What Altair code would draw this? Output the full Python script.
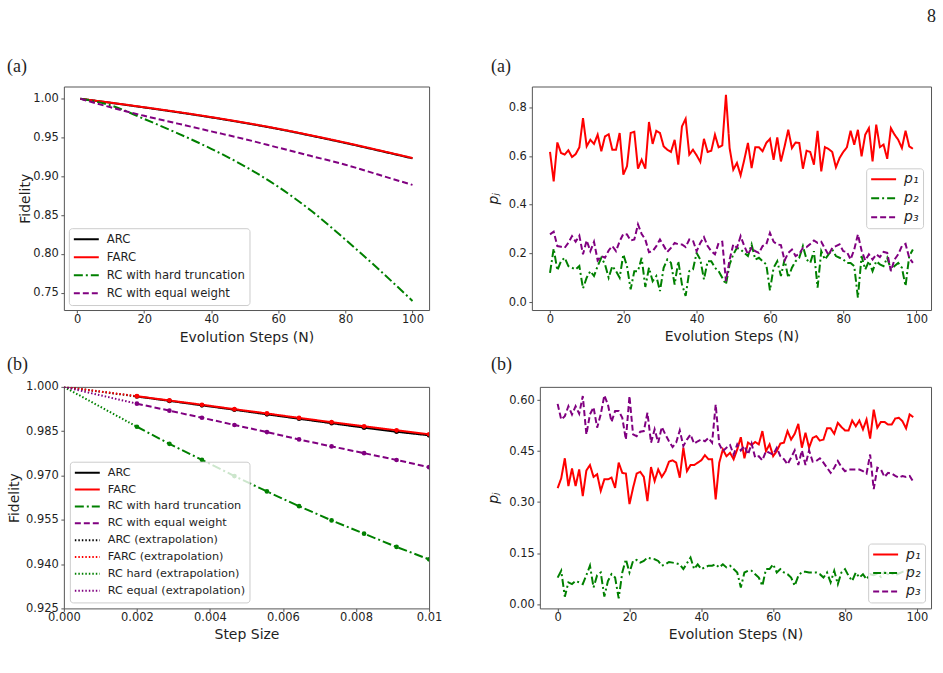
import altair as alt
import pandas as pd

SANS = "DejaVu Sans"
SERIF = "Liberation Serif"
INK = "#1f1f1f"
FRAME = "#555555"

# ---------------------------------------------------------------------------
# Fidelity versus number of evolution steps N
evo_steps = [1, 10, 20, 30, 40, 50, 60, 70, 80, 90, 100]
fid_arc = [1.0000, 0.9948, 0.9888, 0.9826, 0.9760, 0.9688, 0.9610, 0.9522, 0.9430, 0.9332, 0.9232]
fid_farc = [1.0000, 0.9950, 0.9891, 0.9830, 0.9764, 0.9692, 0.9614, 0.9527, 0.9435, 0.9337, 0.9237]
fid_hard = [1.0000, 0.9915, 0.9740, 0.9555, 0.9355, 0.9130, 0.8865, 0.8550, 0.8185, 0.7800, 0.7395]
fid_equal = [1.0000, 0.9890, 0.9780, 0.9680, 0.9580, 0.9480, 0.9370, 0.9260, 0.9150, 0.9020, 0.8890]

# Fidelity versus step size, with linear extrapolation to zero step size
step_size = [0.002, 0.00289, 0.00378, 0.00467, 0.00556, 0.00644, 0.00733, 0.00822, 0.00911, 0.010]
ss_arc = [0.99675, 0.99525, 0.99375, 0.99225, 0.99070, 0.98920, 0.98770, 0.98620, 0.98480, 0.98360]
ss_farc = [0.99685, 0.99540, 0.99395, 0.99245, 0.99100, 0.98950, 0.98805, 0.98665, 0.98530, 0.98395]
ss_hard = [0.98650, 0.98070, 0.97530, 0.96980, 0.96460, 0.95960, 0.95480, 0.95030, 0.94580, 0.94160]
ss_equal = [0.99430, 0.99195, 0.98955, 0.98710, 0.98470, 0.98220, 0.97985, 0.97755, 0.97525, 0.97280]
extrap_x = [0.0, 0.002]
ex_arc = [1.0, 0.99675]
ex_farc = [1.0, 0.99685]
ex_hard = [1.0, 0.98650]
ex_equal = [1.0, 0.99430]

# Probabilities p_j over the evolution steps
steps = list(range(100))
p1_a = [0.617, 0.496, 0.656, 0.613, 0.606, 0.624, 0.596, 0.608, 0.636, 0.756,
        0.640, 0.667, 0.650, 0.688, 0.620, 0.681, 0.690, 0.626, 0.626, 0.695,
        0.524, 0.558, 0.695, 0.700, 0.548, 0.585, 0.548, 0.740, 0.650, 0.704,
        0.695, 0.640, 0.626, 0.617, 0.667, 0.565, 0.722, 0.753, 0.606, 0.626,
        0.603, 0.576, 0.671, 0.617, 0.622, 0.688, 0.636, 0.644, 0.852, 0.633,
        0.544, 0.572, 0.521, 0.585, 0.654, 0.551, 0.636, 0.636, 0.620, 0.654,
        0.671, 0.585, 0.677, 0.578, 0.640, 0.708, 0.633, 0.656, 0.654, 0.548,
        0.622, 0.617, 0.565, 0.704, 0.537, 0.637, 0.629, 0.617, 0.554, 0.592,
        0.617, 0.636, 0.704, 0.647, 0.708, 0.599, 0.688, 0.715, 0.578, 0.729,
        0.637, 0.647, 0.589, 0.715, 0.688, 0.667, 0.633, 0.704, 0.640, 0.630]
p2_a = [0.120, 0.220, 0.130, 0.168, 0.182, 0.148, 0.141, 0.134, 0.148, 0.056,
        0.100, 0.127, 0.107, 0.148, 0.182, 0.155, 0.100, 0.148, 0.127, 0.100,
        0.196, 0.148, 0.052, 0.127, 0.127, 0.182, 0.062, 0.141, 0.086, 0.107,
        0.045, 0.141, 0.175, 0.161, 0.072, 0.168, 0.072, 0.025, 0.127, 0.134,
        0.202, 0.175, 0.093, 0.168, 0.168, 0.141, 0.127, 0.100, 0.072, 0.155,
        0.196, 0.223, 0.216, 0.202, 0.189, 0.237, 0.175, 0.182, 0.168, 0.155,
        0.048, 0.141, 0.168, 0.107, 0.175, 0.100, 0.141, 0.168, 0.182, 0.230,
        0.175, 0.161, 0.209, 0.059, 0.209, 0.175, 0.196, 0.216, 0.189, 0.182,
        0.175, 0.161, 0.161, 0.148, 0.018, 0.189, 0.134, 0.168, 0.127, 0.168,
        0.155, 0.148, 0.182, 0.134, 0.148, 0.161, 0.141, 0.066, 0.189, 0.216]
p3_a = [0.278, 0.289, 0.230, 0.227, 0.223, 0.243, 0.271, 0.248, 0.273, 0.196,
        0.253, 0.209, 0.248, 0.171, 0.189, 0.182, 0.212, 0.230, 0.209, 0.250,
        0.280, 0.278, 0.253, 0.257, 0.319, 0.280, 0.257, 0.205, 0.209, 0.230,
        0.257, 0.232, 0.206, 0.223, 0.243, 0.237, 0.237, 0.226, 0.257, 0.253,
        0.209, 0.243, 0.267, 0.230, 0.209, 0.196, 0.243, 0.248, 0.086, 0.175,
        0.237, 0.223, 0.271, 0.230, 0.196, 0.223, 0.209, 0.202, 0.230, 0.237,
        0.284, 0.248, 0.237, 0.234, 0.171, 0.202, 0.216, 0.189, 0.198, 0.223,
        0.226, 0.239, 0.253, 0.243, 0.248, 0.220, 0.193, 0.223, 0.230, 0.237,
        0.209, 0.206, 0.175, 0.216, 0.278, 0.212, 0.171, 0.196, 0.175, 0.196,
        0.185, 0.206, 0.202, 0.127, 0.175, 0.196, 0.230, 0.239, 0.182, 0.161]

p1_b = [0.341, 0.370, 0.429, 0.347, 0.399, 0.347, 0.396, 0.318, 0.393, 0.409,
        0.374, 0.382, 0.333, 0.367, 0.367, 0.372, 0.342, 0.416, 0.386, 0.384,
        0.294, 0.342, 0.384, 0.389, 0.374, 0.303, 0.403, 0.362, 0.396, 0.374,
        0.391, 0.419, 0.423, 0.416, 0.372, 0.460, 0.391, 0.409, 0.409, 0.416,
        0.423, 0.438, 0.426, 0.426, 0.308, 0.416, 0.455, 0.435, 0.445, 0.426,
        0.455, 0.491, 0.429, 0.475, 0.468, 0.477, 0.470, 0.509, 0.450, 0.470,
        0.435, 0.450, 0.472, 0.475, 0.509, 0.484, 0.501, 0.530, 0.460, 0.504,
        0.460, 0.489, 0.494, 0.481, 0.484, 0.517, 0.517, 0.501, 0.533, 0.521,
        0.511, 0.511, 0.540, 0.523, 0.540, 0.514, 0.543, 0.487, 0.572, 0.519,
        0.536, 0.536, 0.528, 0.528, 0.546, 0.548, 0.538, 0.517, 0.558, 0.550]
p2_b = [0.078, 0.098, 0.022, 0.064, 0.059, 0.068, 0.064, 0.059, 0.085, 0.113,
        0.049, 0.085, 0.093, 0.022, 0.068, 0.088, 0.078, 0.017, 0.093, 0.132,
        0.093, 0.127, 0.130, 0.122, 0.127, 0.137, 0.134, 0.132, 0.127, 0.113,
        0.117, 0.124, 0.122, 0.120, 0.117, 0.103, 0.120, 0.137, 0.103, 0.117,
        0.103, 0.108, 0.113, 0.113, 0.117, 0.108, 0.117, 0.108, 0.113, 0.103,
        0.093, 0.049, 0.093, 0.098, 0.098, 0.088, 0.078, 0.054, 0.103, 0.103,
        0.117, 0.093, 0.103, 0.093, 0.088, 0.078, 0.054, 0.083, 0.095, 0.095,
        0.093, 0.093, 0.093, 0.088, 0.078, 0.093, 0.064, 0.098, 0.059, 0.093,
        0.103, 0.083, 0.068, 0.093, 0.078, 0.088, 0.073, 0.088, 0.085, 0.090,
        0.080, 0.095, 0.088, 0.090, 0.085, 0.090, 0.095, 0.098, 0.100, 0.090]
p3_b = [0.589, 0.543, 0.553, 0.582, 0.558, 0.582, 0.560, 0.612, 0.499, 0.558,
        0.579, 0.519, 0.558, 0.614, 0.587, 0.536, 0.568, 0.568, 0.548, 0.484,
        0.612, 0.499, 0.494, 0.507, 0.509, 0.563, 0.475, 0.514, 0.475, 0.521,
        0.499, 0.479, 0.462, 0.475, 0.511, 0.465, 0.484, 0.499, 0.472, 0.479,
        0.484, 0.479, 0.489, 0.475, 0.587, 0.470, 0.450, 0.460, 0.468, 0.440,
        0.470, 0.452, 0.465, 0.440, 0.472, 0.431, 0.435, 0.423, 0.450, 0.445,
        0.440, 0.460, 0.435, 0.426, 0.411, 0.431, 0.452, 0.409, 0.452, 0.409,
        0.452, 0.419, 0.421, 0.429, 0.416, 0.401, 0.386, 0.401, 0.421, 0.403,
        0.391, 0.396, 0.396, 0.396, 0.396, 0.391, 0.384, 0.440, 0.338, 0.401,
        0.396, 0.374, 0.386, 0.384, 0.377, 0.372, 0.377, 0.374, 0.377, 0.360]

fid_names = ["ARC", "FARC", "RC with hard truncation", "RC with equal weight"]
fid_colors = ["black", "red", "green", "purple"]
fid_dashes = [[1, 0], [1, 0], [9, 3, 2, 3], [6, 3]]

ext_names = ["ARC (extrapolation)", "FARC (extrapolation)",
             "RC hard (extrapolation)", "RC equal (extrapolation)"]

p_names = ["p\u2081", "p\u2082", "p\u2083"]
p_colors = ["red", "green", "purple"]
p_dashes = [[1, 0], [8, 3, 2, 3], [6, 3]]

INDEPENDENT = dict(color="independent", strokeDash="independent", strokeWidth="independent")


def long_df(x, cols):
    rows = []
    for name, vals in cols:
        for xv, yv in zip(x, vals):
            rows.append({"x": xv, "y": yv, "series": name})
    return pd.DataFrame(rows)


def legend(**kw):
    props = dict(title=None, symbolType="stroke", symbolSize=625, symbolStrokeWidth=2,
                 labelFont=SANS, labelFontSize=11.7, labelColor=INK, labelOffset=7,
                 labelLimit=400, padding=4, rowPadding=4.1, clipHeight=14,
                 fillColor="rgba(255,255,255,0.8)", strokeColor="#cccccc", cornerRadius=3)
    props.update(kw)
    return alt.Legend(**props)


def x_axis(title, values, fmt, title_y, label_expr=None):
    kw = dict(title=title, values=values, format=fmt, grid=False, domain=False,
              tickSize=3, tickColor=FRAME, labelPadding=0.5, labelFlush=False,
              labelOverlap=False, labelFont=SANS, labelFontSize=11.5, labelColor=INK,
              titleFont=SANS, titleFontSize=14, titleFontWeight="normal",
              titleColor=INK, titleY=title_y, titleBaseline="top")
    if label_expr:
        kw["labelExpr"] = label_expr
    return alt.Axis(**kw)


def y_axis(title, values, fmt, title_x, italic=False):
    return alt.Axis(title=title, values=values, format=fmt, grid=False, domain=False,
                    tickSize=3, tickColor=FRAME, labelPadding=2.5, labelFlush=False,
                    labelOverlap=False, labelFont=SANS, labelFontSize=11.5, labelColor=INK,
                    titleFont=SANS, titleFontSize=14, titleFontWeight="normal",
                    titleFontStyle="italic" if italic else "normal",
                    titleColor=INK, titleX=title_x, titleAngle=270, titleBaseline="bottom")


def text_note(text, x, y, align="left", size=18):
    return alt.Chart(pd.DataFrame({"t": [text]})).mark_text(
        font=SERIF, fontSize=size, align=align, baseline="alphabetic", color=INK
    ).encode(x=alt.value(x), y=alt.value(y), text="t:N")


def line_layers(df, names, colors, dashes, xenc, yenc, leg, widths=None, interpolate="linear"):
    enc = dict(
        x=xenc, y=yenc,
        color=alt.Color("series:N", scale=alt.Scale(domain=names, range=colors), legend=leg),
        strokeDash=alt.StrokeDash("series:N", scale=alt.Scale(domain=names, range=dashes), legend=leg),
    )
    if widths is not None:
        enc["strokeWidth"] = alt.StrokeWidth("series:N", scale=alt.Scale(domain=names, range=widths), legend=leg)
    layers = []
    for name in names:
        mark = alt.Chart(df).transform_filter(alt.datum.series == name)
        if widths is None:
            layers.append(mark.mark_line(clip=True, strokeWidth=2, interpolate=interpolate).encode(**enc))
        else:
            layers.append(mark.mark_line(clip=True, interpolate=interpolate).encode(**enc))
    return layers


# ---------------- (a) left: fidelity vs N ----------------
df_tl = long_df(evo_steps, list(zip(fid_names, [fid_arc, fid_farc, fid_hard, fid_equal])))
x_tl = alt.X("x:Q", scale=alt.Scale(domain=[-3.95, 104.95], nice=False, zero=False),
             axis=x_axis("Evolution Steps (N)", [0, 20, 40, 60, 80, 100], "d", 21))
y_tl = alt.Y("y:Q", scale=alt.Scale(domain=[0.7278, 1.0158], nice=False, zero=False),
             axis=y_axis("Fidelity", [0.75, 0.80, 0.85, 0.90, 0.95, 1.00], ".2f", -31))
tl = alt.layer(
    *line_layers(df_tl, fid_names, fid_colors, fid_dashes, x_tl, y_tl,
                 legend(orient="bottom-left", offset=5), interpolate="monotone"),
    text_note("(a)", -57, -15),
).properties(width=366, height=224)

# ---------------- (a) right: p_j vs N ----------------
df_tr = long_df(steps, list(zip(p_names, [p1_a, p2_a, p3_a])))
x_tr = alt.X("x:Q", scale=alt.Scale(domain=[-4.95, 103.95], nice=False, zero=False),
             axis=x_axis("Evolution Steps (N)", [0, 20, 40, 60, 80, 100], "d", 20))
y_tr = alt.Y("y:Q", scale=alt.Scale(domain=[-0.0328, 0.886], nice=False, zero=False),
             axis=y_axis("p\u2c7c", [0.0, 0.2, 0.4, 0.6, 0.8], ".1f", -31, italic=True))
tr = alt.layer(
    *line_layers(df_tr, p_names, p_colors, p_dashes, x_tr, y_tr,
                 legend(orient="none", legendX=335, legendY=82, labelFontSize=14,
                        labelFontStyle="italic", rowPadding=5)),
    text_note("(a)", -41, -15),
    text_note("8", 405, -65, align="right"),
).properties(width=400, height=224)

# ---------------- (b) left: fidelity vs step size ----------------
bl_names = fid_names + ext_names
bl_colors = fid_colors + fid_colors
bl_dashes = fid_dashes + [[1.5, 2]] * 4
bl_widths = [2, 2, 2, 2, 1.2, 1.2, 1.2, 1.2]
df_bl = pd.concat([
    long_df(step_size, list(zip(fid_names, [ss_arc, ss_farc, ss_hard, ss_equal]))),
    long_df(extrap_x, list(zip(ext_names, [ex_arc, ex_farc, ex_hard, ex_equal]))),
], ignore_index=True)
x_bl = alt.X("x:Q", scale=alt.Scale(domain=[0.0, 0.01], nice=False, zero=False),
             axis=x_axis("Step Size", [0.0, 0.002, 0.004, 0.006, 0.008, 0.01], ".3f", 19,
                         label_expr="datum.value >= 0.0099 ? '0.01' : format(datum.value, '.3f')"))
y_bl = alt.Y("y:Q", scale=alt.Scale(domain=[0.925, 1.0], nice=False, zero=False),
             axis=y_axis("Fidelity", [0.925, 0.940, 0.955, 0.970, 0.985, 1.000], ".3f", -42))
bl_markers = [
    alt.Chart(df_bl).transform_filter(alt.datum.series == name)
    .mark_point(filled=True, size=22, opacity=1, clip=True)
    .encode(x=x_bl, y=y_bl, color=alt.value(col))
    for name, col in zip(fid_names, fid_colors)
]
bl = alt.layer(
    *line_layers(df_bl, bl_names, bl_colors, bl_dashes, x_bl, y_bl,
                 legend(orient="bottom-left", offset=6, labelFontSize=11.3, rowPadding=2.9),
                 widths=bl_widths),
    *bl_markers,
    text_note("(b)", -57, -17),
).properties(width=366, height=222)

# ---------------- (b) right: p_j vs N ----------------
df_br = long_df(steps, list(zip(p_names, [p1_b, p2_b, p3_b])))
x_br = alt.X("x:Q", scale=alt.Scale(domain=[-4.95, 103.95], nice=False, zero=False),
             axis=x_axis("Evolution Steps (N)", [0, 20, 40, 60, 80, 100], "d", 19))
y_br = alt.Y("y:Q", scale=alt.Scale(domain=[-0.0126, 0.639], nice=False, zero=False),
             axis=y_axis("p\u2c7c", [0.0, 0.15, 0.30, 0.45, 0.60], ".2f", -39, italic=True))
br = alt.layer(
    *line_layers(df_br, p_names, p_colors, p_dashes, x_br, y_br,
                 legend(orient="bottom-right", offset=6, labelFontSize=14,
                        labelFontStyle="italic", rowPadding=4.5)),
    text_note("(b)", -49, -17),
).properties(width=392, height=222)

row_top = alt.hconcat(tl, tr, spacing=103, bounds="flush") \
    .resolve_scale(**INDEPENDENT).resolve_legend(**INDEPENDENT)
row_bottom = alt.hconcat(bl, br, spacing=111, bounds="flush") \
    .resolve_scale(**INDEPENDENT).resolve_legend(**INDEPENDENT)

chart = alt.vconcat(row_top, row_bottom, spacing=9).resolve_scale(**INDEPENDENT) \
    .resolve_legend(**INDEPENDENT).properties(
        padding={"left": 6, "top": 6, "right": 6, "bottom": 6},
        background="white",
    ).configure_view(stroke=FRAME, strokeWidth=1)

chart.save("out.html", embed_options={"renderer": "svg", "actions": False})
